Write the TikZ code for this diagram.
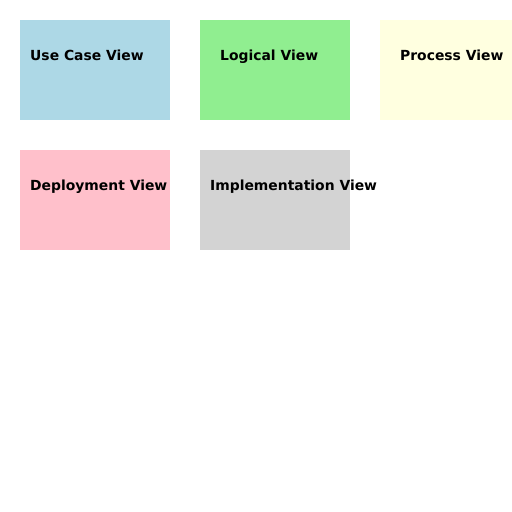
\documentclass[tikz,border=0pt]{standalone}
\usepackage{fontspec}
\setmainfont{DejaVu Sans}
\definecolor{lblue}{RGB}{173,216,230}
\definecolor{lgreen}{RGB}{144,238,144}
\definecolor{lyellow}{RGB}{255,255,224}
\definecolor{lpink}{RGB}{255,192,203}
\definecolor{lgray}{RGB}{211,211,211}
\tikzset{
  viewbox/.style={minimum width=150pt, minimum height=100pt, anchor=north west, inner sep=0pt, draw=none},
  viewlabel/.style={anchor=base west, inner sep=0pt, font=\fontsize{13.9pt}{16pt}\selectfont\bfseries}
}
\begin{document}
\begin{tikzpicture}[x=1pt,y=1pt]
\useasboundingbox (0,0) rectangle (512,512);
\fill[white] (0,0) rectangle (512,512);
\node[viewbox, fill=lblue] (uc) at (20,492) {};
\node[viewbox, fill=lgreen] (lg) at (200,492) {};
\node[viewbox, fill=lyellow] (pr) at (380,492) {};
\node[viewbox, fill=lpink] (dp) at (20,362) {};
\node[viewbox, fill=lgray] (im) at (200,362) {};
\node[viewlabel] (tuc) at (30,451.5) {Use Case View};
\node[viewlabel] (tlg) at (220,451.5) {Logical View};
\node[viewlabel] (tpr) at (400,451.5) {Process View};
\node[viewlabel] (tdp) at (30,321.5) {Deployment View};
\node[viewlabel] (tim) at (210,321.5) {Implementation View};
\end{tikzpicture}
\end{document}
